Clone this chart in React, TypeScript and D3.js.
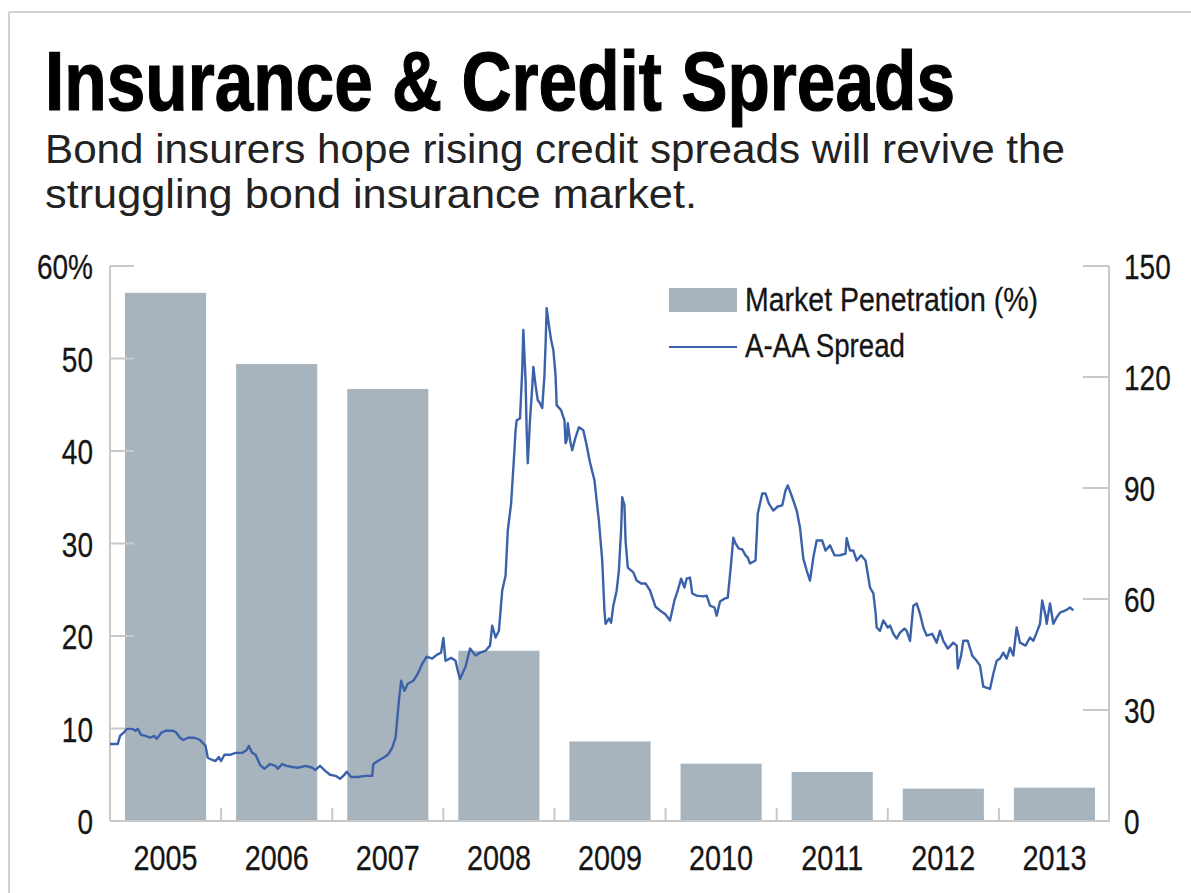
import React from "react";
import * as d3 from "d3";

const years = ["2005", "2006", "2007", "2008", "2009", "2010", "2011", "2012", "2013"];
const penetration = [57.1, 49.4, 46.7, 18.4, 8.6, 6.2, 5.3, 3.5, 3.6];

const leftTicks = [0, 10, 20, 30, 40, 50, 60];
const leftTickLabels = ["0", "10", "20", "30", "40", "50", "60%"];
const rightTicks = [0, 30, 60, 90, 120, 150];

// A-AA spread (basis points), time as decimal year
const spreadTime = [
  2005.0, 2005.07, 2005.09, 2005.13, 2005.15, 2005.2, 2005.23, 2005.25, 2005.28, 2005.32,
  2005.36, 2005.4, 2005.42, 2005.46, 2005.5, 2005.56, 2005.59, 2005.63, 2005.66, 2005.7,
  2005.76, 2005.81, 2005.86, 2005.88, 2005.92, 2005.95, 2005.98, 2006.0, 2006.03, 2006.08,
  2006.13, 2006.19, 2006.23, 2006.25, 2006.28, 2006.31, 2006.35, 2006.39, 2006.44, 2006.49,
  2006.51, 2006.55, 2006.59, 2006.64, 2006.69, 2006.76, 2006.82, 2006.85, 2006.89, 2006.94,
  2006.98, 2007.03, 2007.07, 2007.11, 2007.13, 2007.17, 2007.23, 2007.3, 2007.36, 2007.37,
  2007.41, 2007.46, 2007.5, 2007.54, 2007.57, 2007.6, 2007.62, 2007.65, 2007.68, 2007.73,
  2007.77, 2007.81, 2007.85, 2007.9, 2007.94, 2007.98, 2008.0, 2008.02, 2008.07, 2008.11,
  2008.13, 2008.15, 2008.2, 2008.24, 2008.29, 2008.33, 2008.38, 2008.42, 2008.44, 2008.47,
  2008.5, 2008.53, 2008.56, 2008.58, 2008.61, 2008.64, 2008.65, 2008.66, 2008.69, 2008.71,
  2008.72, 2008.74, 2008.75, 2008.76, 2008.78, 2008.8, 2008.81, 2008.83, 2008.85, 2008.87,
  2008.89, 2008.91, 2008.92, 2008.93, 2008.95, 2008.97, 2008.99, 2009.01, 2009.02, 2009.06,
  2009.09, 2009.1, 2009.11, 2009.12, 2009.14, 2009.16, 2009.19, 2009.22, 2009.26, 2009.29,
  2009.32, 2009.36, 2009.38, 2009.4, 2009.43, 2009.44, 2009.45, 2009.46, 2009.49, 2009.51,
  2009.53, 2009.56, 2009.58, 2009.6, 2009.61, 2009.63, 2009.64, 2009.66, 2009.71, 2009.74,
  2009.78, 2009.82, 2009.86, 2009.91, 2009.95, 2010.0, 2010.04, 2010.08, 2010.11, 2010.14,
  2010.17, 2010.19, 2010.22, 2010.24, 2010.28, 2010.34, 2010.37, 2010.4, 2010.44, 2010.46,
  2010.49, 2010.53, 2010.56, 2010.59, 2010.61, 2010.63, 2010.66, 2010.69, 2010.72, 2010.74,
  2010.76, 2010.81, 2010.83, 2010.87, 2010.9, 2010.93, 2010.97, 2011.01, 2011.05, 2011.08,
  2011.1, 2011.14, 2011.18, 2011.21, 2011.24, 2011.27, 2011.3, 2011.33, 2011.36, 2011.41,
  2011.44, 2011.48, 2011.52, 2011.57, 2011.62, 2011.63, 2011.66, 2011.69, 2011.72, 2011.76,
  2011.8, 2011.84, 2011.87, 2011.89, 2011.9, 2011.93, 2011.96, 2012.0, 2012.02, 2012.05,
  2012.08, 2012.11, 2012.15, 2012.17, 2012.2, 2012.23, 2012.26, 2012.29, 2012.32, 2012.35,
  2012.4, 2012.44, 2012.47, 2012.5, 2012.54, 2012.59, 2012.62, 2012.63, 2012.66, 2012.68,
  2012.72, 2012.76, 2012.8, 2012.83, 2012.86, 2012.92, 2012.95, 2012.98, 2013.01, 2013.04,
  2013.07, 2013.1, 2013.13, 2013.16, 2013.19, 2013.24, 2013.28, 2013.31, 2013.34, 2013.37,
  2013.39, 2013.42, 2013.43, 2013.46, 2013.49, 2013.52, 2013.55, 2013.6, 2013.64, 2013.67,
];
const spreadValue = [
  20.8, 20.8, 23.0, 24.1, 24.9, 24.9, 24.4, 24.9, 23.3, 23.0,
  22.5, 23.0, 22.2, 23.8, 24.4, 24.4, 24.1, 22.5, 21.9, 22.5,
  22.5, 21.9, 20.3, 17.1, 16.5, 16.2, 17.3, 16.2, 17.9, 17.9,
  18.4, 18.4, 19.2, 20.3, 18.4, 17.9, 15.2, 14.1, 15.4, 14.9,
  14.1, 15.4, 14.9, 14.6, 14.4, 14.9, 14.4, 13.8, 14.9, 13.5,
  12.5, 12.2, 11.4, 12.5, 13.3, 11.9, 11.9, 12.2, 12.2, 15.4,
  16.2, 17.1, 17.9, 19.8, 22.5, 32.5, 37.9, 35.2, 37.1, 37.9,
  39.8, 42.5, 44.4, 43.9, 44.9, 45.5, 49.5, 43.3, 44.1, 43.3,
  40.6, 38.4, 41.7, 46.6, 44.7, 45.5, 46.0, 47.4, 52.8, 49.6,
  51.4, 62.3, 66.3, 78.5, 85.8, 100.2, 105.6, 108.3, 108.8, 121.8,
  132.7, 119.1, 105.6, 96.7, 108.3, 117.2, 122.7, 117.8, 113.7, 112.9,
  111.6, 120.5, 128.6, 138.6, 134.0, 130.0, 127.3, 120.5, 112.4, 111.0,
  108.3, 102.1, 102.9, 107.5, 102.9, 100.2, 103.7, 106.4, 105.6, 101.5,
  96.9, 92.1, 86.6, 81.2, 70.4, 63.6, 56.9, 53.3, 54.7, 53.6,
  58.2, 62.3, 67.7, 78.5, 87.5, 85.3, 75.8, 68.5, 67.2, 65.0,
  64.2, 64.2, 62.3, 57.9, 56.9, 55.8, 54.2, 59.6, 62.3, 65.5,
  63.1, 65.5, 65.8, 61.5, 60.9, 60.7, 60.9, 58.2, 57.7, 55.5,
  59.3, 60.1, 60.4, 69.6, 76.6, 75.0, 73.6, 73.4, 71.8, 71.2,
  69.6, 70.4, 83.1, 88.5, 88.5, 85.8, 83.9, 85.0, 85.3, 89.4,
  90.7, 87.5, 83.9, 79.3, 70.9, 67.7, 65.0, 71.2, 75.8, 75.8,
  73.1, 74.5, 71.8, 71.8, 72.3, 76.4, 73.1, 73.1, 70.4, 71.8,
  70.4, 63.1, 61.5, 56.3, 52.3, 51.4, 54.2, 52.3, 52.8, 50.6,
  49.3, 50.9, 52.0, 51.4, 48.7, 58.2, 58.8, 56.0, 52.3, 50.1,
  50.6, 48.2, 51.4, 48.7, 46.6, 48.2, 47.4, 41.2, 44.7, 48.7,
  48.7, 44.7, 43.3, 42.0, 36.3, 35.7, 39.8, 43.3, 43.9, 45.5,
  43.9, 46.8, 44.7, 52.3, 48.2, 47.4, 49.6, 48.7, 50.9, 53.3,
  59.6, 55.5, 53.3, 58.8, 53.3, 55.0, 56.3, 56.9, 57.7, 56.9,
];

const W = 1191;
const H = 893;
const X0 = 110;
const X1 = 1110;
const Y0 = 821;
const Y1 = 266;

const sans = "'Liberation Sans', Arial, Helvetica, sans-serif";
const AXIS = "#c9c9c9";
const BAR = "#a7b4bd";
const LINE = "#3a61aa";
const TXT = "#151515";
const SQ = 0.8; // horizontal condensing for axis labels

function Narrow(props: {
  x: number;
  y: number;
  size: number;
  anchor?: string;
  children: React.ReactNode;
}) {
  return (
    <text
      transform={`translate(${props.x},${props.y}) scale(${SQ},1)`}
      textAnchor={props.anchor || "start"}
      fontFamily={sans}
      fontSize={props.size}
      fill={TXT}
      stroke={TXT}
      strokeWidth={0.3}
    >
      {props.children}
    </text>
  );
}

export default function App() {
  const x = d3.scaleBand<string>().domain(years).range([X0, X1]).paddingInner(0.27).paddingOuter(0.135);
  const xt = d3.scaleLinear().domain([2005, 2014]).range([X0, X1]);
  const yL = d3.scaleLinear().domain([0, 60]).range([Y0, Y1]);
  const yR = d3.scaleLinear().domain([0, 150]).range([Y0, Y1]);

  const pts: [number, number][] = spreadTime.map((t, i) => [t, spreadValue[i]]);
  const line = d3
    .line<[number, number]>()
    .x((d) => xt(d[0]))
    .y((d) => yR(d[1]));

  const boundaries = years.slice(1).map((_, i) => X0 + x.step() * (i + 1));

  return (
    <svg width={W} height={H} style={{ position: "absolute", left: 0, top: 0, background: "#fff" }}>
      <rect x={0} y={0} width={W} height={H} fill="#fff" />
      {/* frame */}
      <line x1={9} y1={12} x2={W} y2={12} stroke="#d2d2d2" strokeWidth={2} />
      <line x1={9} y1={12} x2={9} y2={H} stroke="#d2d2d2" strokeWidth={2} />

      {/* title */}
      <text
        x={45}
        y={110}
        fontFamily={sans}
        fontWeight="bold"
        fontSize={84}
        textLength={910}
        lengthAdjust="spacingAndGlyphs"
        fill="#000"
        stroke="#000"
        strokeWidth={1.2}
      >
        Insurance &amp; Credit Spreads
      </text>
      <text x={45} y={163} fontFamily={sans} fontSize={40} textLength={1020} lengthAdjust="spacingAndGlyphs" fill="#222">
        Bond insurers hope rising credit spreads will revive the
      </text>
      <text x={45} y={208} fontFamily={sans} fontSize={40} textLength={652} lengthAdjust="spacingAndGlyphs" fill="#222">
        struggling bond insurance market.
      </text>

      {/* bars */}
      {years.map((yr, i) => (
        <rect
          key={yr}
          x={x(yr)}
          y={yL(penetration[i])}
          width={x.bandwidth()}
          height={Y0 - yL(penetration[i])}
          fill={BAR}
        />
      ))}

      {/* axes */}
      <line x1={X0} y1={Y1} x2={X0} y2={Y0} stroke={AXIS} strokeWidth={2} />
      <line x1={X1 - 1} y1={Y1} x2={X1 - 1} y2={Y0} stroke={AXIS} strokeWidth={2} />
      <line x1={X0} y1={Y0} x2={X1} y2={Y0} stroke={AXIS} strokeWidth={2} />
      {leftTicks.map((t) => (
        <line key={"lt" + t} x1={X0} x2={X0 + 24} y1={yL(t)} y2={yL(t)} stroke={AXIS} strokeWidth={2} />
      ))}
      {rightTicks.map((t) => (
        <line key={"rt" + t} x1={X1 - 27} x2={X1 - 1} y1={yR(t)} y2={yR(t)} stroke={AXIS} strokeWidth={2} />
      ))}
      {boundaries.map((bx, i) => (
        <line key={"bt" + i} x1={bx} x2={bx} y1={Y0} y2={Y0 - 13} stroke={AXIS} strokeWidth={2} />
      ))}

      {/* line */}
      <path d={line(pts) || ""} fill="none" stroke={LINE} strokeWidth={2.4} strokeLinejoin="round" />

      {/* tick labels */}
      {leftTicks.map((t, i) => (
        <Narrow key={"ll" + t} x={93} y={yL(t) + 13} size={35} anchor="end">
          {leftTickLabels[i]}
        </Narrow>
      ))}
      {rightTicks.map((t) => (
        <Narrow key={"rl" + t} x={1124} y={yR(t) + 13} size={35}>
          {t}
        </Narrow>
      ))}
      {years.map((yr) => (
        <Narrow key={"xl" + yr} x={(x(yr) || 0) + x.bandwidth() / 2} y={870} size={36} anchor="middle">
          {yr}
        </Narrow>
      ))}

      {/* legend */}
      <rect x={669} y={288} width={68} height={24} fill={BAR} />
      <text
        x={745}
        y={311}
        fontFamily={sans}
        fontSize={33}
        textLength={293}
        lengthAdjust="spacingAndGlyphs"
        fill={TXT}
        stroke={TXT}
        strokeWidth={0.3}
      >
        Market Penetration (%)
      </text>
      <line x1={669} x2={737} y1={347} y2={347} stroke={LINE} strokeWidth={2.2} />
      <text
        x={745}
        y={357}
        fontFamily={sans}
        fontSize={33}
        textLength={160}
        lengthAdjust="spacingAndGlyphs"
        fill={TXT}
        stroke={TXT}
        strokeWidth={0.3}
      >
        A-AA Spread
      </text>
    </svg>
  );
}
